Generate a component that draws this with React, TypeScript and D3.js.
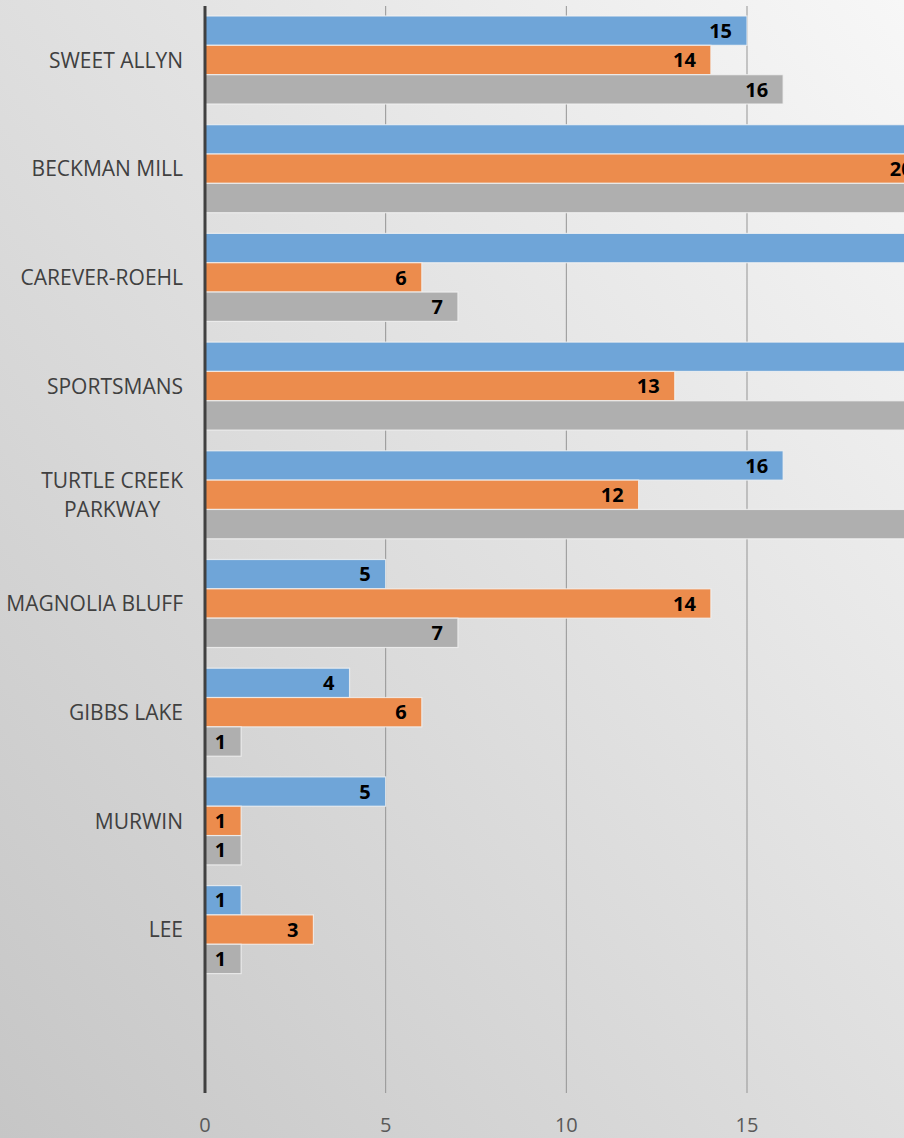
import React from "react";
import * as d3 from "d3";

const categories = [
  "SWEET ALLYN",
  "BECKMAN MILL",
  "CAREVER-ROEHL",
  "SPORTSMANS",
  "TURTLE CREEK PARKWAY",
  "MAGNOLIA BLUFF",
  "GIBBS LAKE",
  "MURWIN",
  "LEE",
];
const categoryLines = [
  ["SWEET ALLYN"],
  ["BECKMAN MILL"],
  ["CAREVER-ROEHL"],
  ["SPORTSMANS"],
  ["TURTLE CREEK", "PARKWAY"],
  ["MAGNOLIA BLUFF"],
  ["GIBBS LAKE"],
  ["MURWIN"],
  ["LEE"],
];
const seriesBlue = [15, 22, 21, 22, 16, 5, 4, 5, 1];
const seriesOrange = [14, 20, 6, 13, 12, 14, 6, 1, 3];
const seriesGray = [16, 21, 7, 22, 21, 7, 1, 1, 1];
const xTicks = [0, 5, 10, 15, 20, 25];

const W = 904;
const H = 1138;
const FONT = "'Open Sans', 'Noto Sans', sans-serif";
const CAT_SIZE = 21;

export default function App() {
  const x = d3.scaleLinear().domain([0, 15]).range([205, 747]);
  const slot = (1093 - 6) / 10;
  const y = d3
    .scaleBand<string>()
    .domain(categories)
    .range([6, 6 + slot * categories.length])
    .paddingInner(0)
    .paddingOuter(0);
  const inner = d3
    .scaleBand<string>()
    .domain(["b", "o", "g"])
    .range([10, slot - 10.7])
    .padding(0);
  const series = [
    { key: "b", values: seriesBlue, color: "#6fa5d8" },
    { key: "o", values: seriesOrange, color: "#ec8c4d" },
    { key: "g", values: seriesGray, color: "#afafaf" },
  ];

  const measure = (() => {
    const c = document.createElement("canvas").getContext("2d")!;
    c.font = `${CAT_SIZE}px ${FONT}`;
    return (s: string) => c.measureText(s).width;
  })();

  return (
    <svg width={W} height={H} style={{ display: "block", position: "absolute", left: 0, top: 0 }}>
      <defs>
        <linearGradient id="bg" x1="0" y1="1" x2="1" y2="0">
          <stop offset="0" stopColor="#c6c6c6" />
          <stop offset="1" stopColor="#f7f7f7" />
        </linearGradient>
        <clipPath id="clip">
          <rect x={0} y={0} width={W} height={H} />
        </clipPath>
      </defs>
      <rect x={0} y={0} width={W} height={H} fill="url(#bg)" />
      <g clipPath="url(#clip)">
        {xTicks.slice(1).filter((t) => x(t) < W).map((t) => (
          <line key={t} x1={x(t)} x2={x(t)} y1={6} y2={1093} stroke="#959595" strokeWidth={1} />
        ))}
        {categories.map((c, i) =>
          series.map((s) => {
            const v = s.values[i];
            const y0 = (y(c) as number) + (inner(s.key) as number);
            const h = inner.bandwidth();
            const lx = x(v) - 15;
            return (
              <g key={c + s.key}>
                <rect
                  x={x(0)}
                  y={y0}
                  width={x(v) - x(0)}
                  height={h}
                  fill={s.color}
                  stroke="#f2f2f2"
                  strokeOpacity={0.8}
                  strokeWidth={1.2}
                />
                {lx - 20 < W && (
                  <text
                    x={lx}
                    y={y0 + h / 2}
                    dy="0.36em"
                    textAnchor="end"
                    fontFamily={FONT}
                    fontWeight={700}
                    fontSize={20}
                    fill="#000"
                  >
                    {v}
                  </text>
                )}
              </g>
            );
          })
        )}
        <line x1={205} x2={205} y1={6} y2={1093} stroke="#404040" strokeWidth={3} />
        {categories.map((c, i) => {
          const lines = categoryLines[i];
          const cy = (y(c) as number) + y.bandwidth() / 2;
          const lh = 29;
          const maxW = Math.max(...lines.map(measure));
          const cx = 183 - maxW / 2;
          return (
            <text
              key={c}
              fontFamily={FONT}
              fontSize={CAT_SIZE}
              fill="#404040"
              textAnchor="middle"
            >
              {lines.map((l, j) => (
                <tspan key={j} x={cx} y={cy + (j - (lines.length - 1) / 2) * lh} dy="0.35em">
                  {l}
                </tspan>
              ))}
            </text>
          );
        })}
        {xTicks.filter((t) => x(t) < W).map((t) => (
          <text
            key={t}
            x={x(t)}
            y={1125}
            dy="0.35em"
            textAnchor="middle"
            fontFamily={FONT}
            fontSize={20}
            fill="#595959"
          >
            {t}
          </text>
        ))}
      </g>
    </svg>
  );
}
